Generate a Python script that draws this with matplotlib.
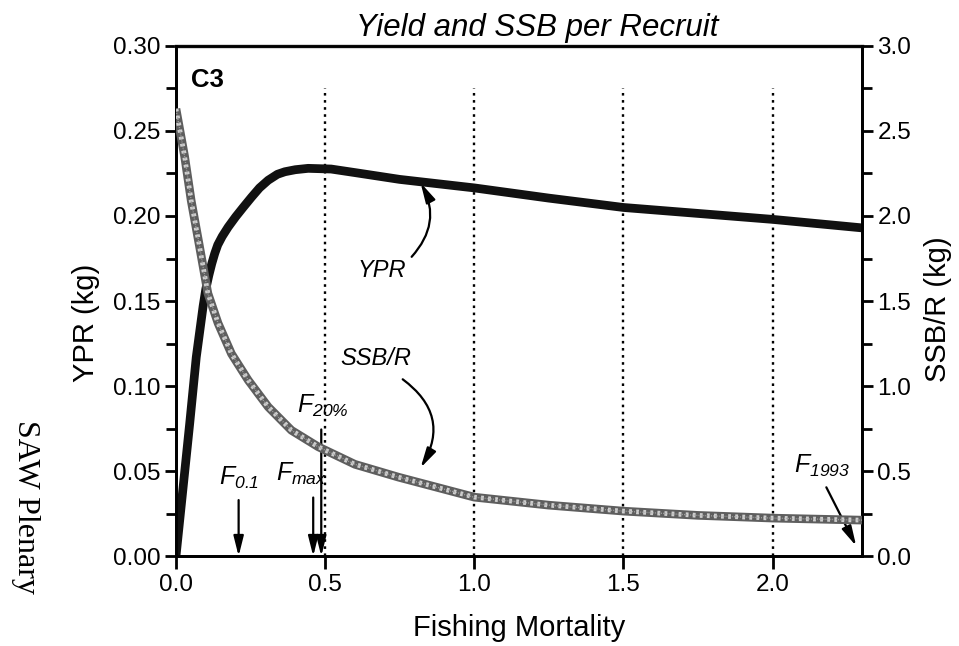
import matplotlib
matplotlib.use("Agg")
import matplotlib.pyplot as plt
from matplotlib.ticker import MultipleLocator, FormatStrFormatter

# ---- data ----
F_ypr = [0.0, 0.023, 0.046, 0.068, 0.091, 0.10, 0.11, 0.12, 0.13, 0.14, 0.155,
         0.175, 0.2, 0.225, 0.253, 0.28, 0.309, 0.34, 0.365, 0.4, 0.443, 0.52,
         0.6, 0.75, 1.0, 1.25, 1.5, 1.75, 2.0, 2.15, 2.3]
ypr = [0.0, 0.039, 0.078, 0.117, 0.147, 0.157, 0.165, 0.172, 0.178, 0.183, 0.188,
       0.1935, 0.1995, 0.205, 0.211, 0.2165, 0.221, 0.2245, 0.226, 0.2272, 0.228, 0.2276,
       0.2255, 0.2215, 0.2165, 0.2105, 0.205, 0.2015, 0.198, 0.1955, 0.193]

F_ssb = [0.0, 0.029, 0.051, 0.079, 0.107, 0.141, 0.186, 0.242, 0.309, 0.387,
         0.477, 0.6, 0.745, 1.0, 1.25, 1.5, 1.75, 2.0, 2.3]
ssb = [2.63, 2.35, 2.09, 1.82, 1.545, 1.37, 1.19, 1.035, 0.878, 0.74,
       0.643, 0.54, 0.465, 0.347, 0.30, 0.265, 0.24, 0.224, 0.212]

grid_F = [0.5, 1.0, 1.5, 2.0]
ref_names = ["$F_{0.1}$", "$F_{max}$", "$F_{20\\%}$", "$F_{1993}$"]
ref_F = [0.21, 0.46, 0.487, 2.3]

x_ticks = [0.0, 0.5, 1.0, 1.5, 2.0]

plt.rcParams['font.family'] = ['Liberation Sans', 'DejaVu Sans']
plt.rcParams['mathtext.fontset'] = 'custom'
plt.rcParams['mathtext.it'] = 'Liberation Sans:italic'
plt.rcParams['mathtext.rm'] = 'Liberation Sans:italic'
plt.rcParams['mathtext.sf'] = 'Liberation Sans:italic'

fig = plt.figure(figsize=(9.59, 6.46), dpi=100)
ax = fig.add_axes([0.1835, 0.139, 0.7155, 0.79])
ax2 = ax.twinx()

ax.set_xlim(0, 2.3)
ax.set_ylim(0, 0.30)
ax2.set_ylim(0, 3.0)

# dotted verticals
for g in grid_F:
    ax.plot([g, g], [0, 0.275], color='black', lw=1.7, linestyle=(0, (1.1, 1.9)), zorder=1)

# YPR
ax.plot(F_ypr, ypr, color='#111111', lw=6.3, solid_capstyle='butt',
        solid_joinstyle='round', zorder=4)

# SSB/R hatched-looking line
ax2.plot(F_ssb, ssb, color='#5e5e5e', lw=6.2, solid_capstyle='butt',
         solid_joinstyle='round', zorder=3)
ax2.plot(F_ssb, ssb, color='white', lw=3.4, linestyle=(0, (0.6, 0.9)), alpha=0.7, zorder=3)
ax2.plot(F_ssb, ssb, color='#a8a8a8', lw=1.0, linestyle=(0, (0.6, 0.9)), zorder=3)

# ticks / spines
for a in (ax, ax2):
    for s in a.spines.values():
        s.set_linewidth(2.0)
ax.spines['top'].set_color('#555555')
ax.spines['top'].set_linewidth(2.5)

ax.set_xticks(x_ticks)
ax.xaxis.set_major_formatter(FormatStrFormatter('%.1f'))
ax.yaxis.set_major_locator(MultipleLocator(0.05))
ax.yaxis.set_minor_locator(MultipleLocator(0.025))
ax.yaxis.set_major_formatter(FormatStrFormatter('%.2f'))
ax2.yaxis.set_major_locator(MultipleLocator(0.5))
ax2.yaxis.set_minor_locator(MultipleLocator(0.25))
ax2.yaxis.set_major_formatter(FormatStrFormatter('%.1f'))

ax.tick_params(axis='x', direction='out', length=9, width=2, labelsize=17.5, pad=4)
ax.tick_params(axis='y', which='major', direction='out', length=8, width=2, labelsize=17.5, pad=3)
ax.tick_params(axis='y', which='minor', direction='out', length=7, width=2)
ax2.tick_params(axis='y', which='major', direction='out', length=8, width=2, labelsize=17.5, pad=3)
ax2.tick_params(axis='y', which='minor', direction='out', length=7, width=2)

ax.set_xlabel('Fishing Mortality', fontsize=21, labelpad=13)
ax.set_ylabel('YPR (kg)', fontsize=21)
ax2.set_ylabel('SSB/R (kg)', fontsize=21)
ax.yaxis.set_label_coords(-0.111, 0.457)
ax2.yaxis.set_label_coords(1.090, 0.484)
ax.set_title('Yield and SSB per Recruit', fontsize=22.5, style='italic', pad=7, x=0.526)

ax.text(0.05, 0.287, 'C3', fontsize=18.5, fontweight='bold', va='top', ha='left')

fig.text(0.027, 0.216, 'SAW Plenary', rotation=-90, fontsize=23,
         family=['Liberation Serif', 'DejaVu Serif'], ha='center', va='center')

arrow_kw = dict(arrowstyle='-|>,head_length=1.2,head_width=0.3', color='black', lw=1.6,
                shrinkA=0, shrinkB=0)

# YPR label + arrow
ax.text(0.69, 0.168, 'YPR', fontsize=17, style='italic', ha='center', va='center')
ax.annotate('', xy=(0.82, 0.2195), xytext=(0.79, 0.176),
            arrowprops=dict(connectionstyle='arc3,rad=0.35', **arrow_kw))

# SSB/R label + arrow
ax2.text(0.67, 1.16, 'SSB/R', fontsize=17, style='italic', ha='center', va='center')
ax2.annotate('', xy=(0.82, 0.52), xytext=(0.76, 1.04),
            arrowprops=dict(connectionstyle='arc3,rad=-0.45', **arrow_kw))

# reference F arrows
ax.text(ref_F[0], 0.0385, ref_names[0], fontsize=18, ha='center', va='bottom')
ax.annotate('', xy=(ref_F[0], 0.0), xytext=(ref_F[0], 0.033), arrowprops=arrow_kw)
ax.text(ref_F[1] - 0.04, 0.0405, ref_names[1], fontsize=18, ha='center', va='bottom')
ax.annotate('', xy=(ref_F[1], 0.0), xytext=(ref_F[1], 0.0345), arrowprops=arrow_kw)
ax.text(ref_F[2] + 0.005, 0.0805, ref_names[2], fontsize=18, ha='center', va='bottom')
ax.annotate('', xy=(ref_F[2], 0.0), xytext=(ref_F[2], 0.0745), arrowprops=arrow_kw)
ax.text(2.165, 0.0455, ref_names[3], fontsize=18, ha='center', va='bottom')
ax.annotate('', xy=(ref_F[3] - 0.02, 0.006), xytext=(2.18, 0.0405), arrowprops=arrow_kw)

fig.savefig('out.png', dpi=100)
